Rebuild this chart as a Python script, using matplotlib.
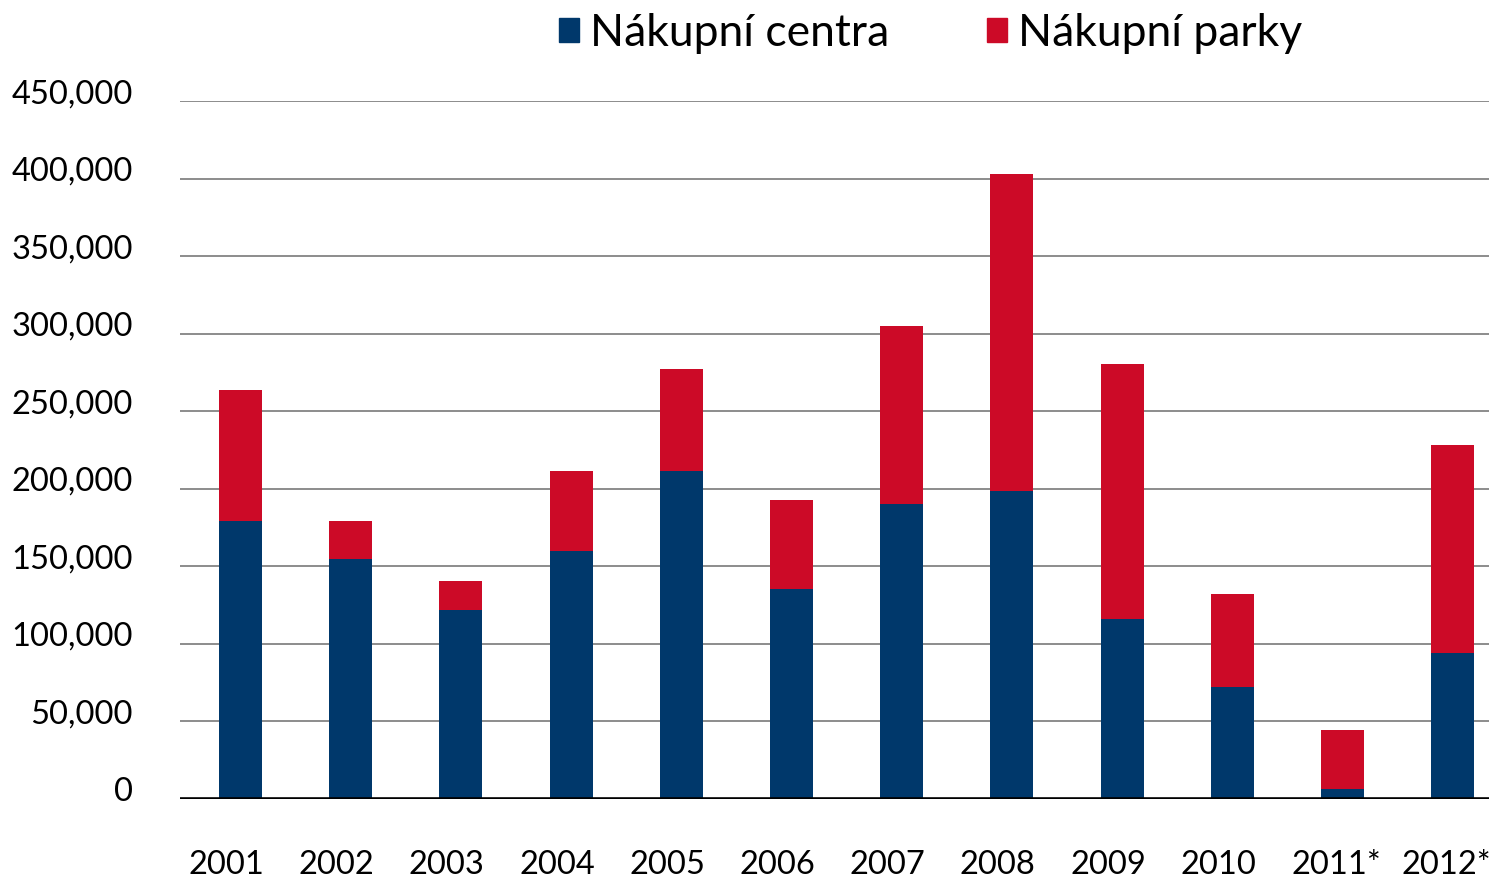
import matplotlib.pyplot as plt
import matplotlib.transforms as mtransforms
from matplotlib.patches import Patch
import numpy as np

plt.rcParams['font.family'] = ['Lato', 'DejaVu Sans']

# data
years = ['2001', '2002', '2003', '2004', '2005', '2006', '2007', '2008',
         '2009', '2010', '2011*', '2012*']
centra = [179000, 155000, 122000, 160000, 211500, 135500, 190000, 198500,
          116000, 72000, 6500, 94000]
parky_total = [263500, 179000, 140500, 211500, 277500, 192800, 305000, 403000,
               280500, 132000, 44500, 228000]
parky = [t - c for t, c in zip(parky_total, centra)]

blue = '#00386B'
red = '#CC0A27'

fig = plt.figure(figsize=(14.89, 8.84), dpi=100)
ax = fig.add_axes([0.1209, 0.0962, 0.8791, 0.7895])

x = np.arange(len(years))
ax.bar(x, centra, width=0.39, color=blue, zorder=2)
ax.bar(x, parky, width=0.39, bottom=centra, color=red, zorder=2)

# axes and grid
ax.set_ylim(0, 450000)
ax.set_xlim(-0.549, 11.33)
ax.set_yticks(np.arange(0, 450001, 50000))
ax.set_yticklabels([f'{v:,}' for v in range(0, 450001, 50000)])
ax.yaxis.grid(True, color='#8c8c8c', linewidth=1.4, zorder=1)
ax.axhline(0, color='black', linewidth=2.6, zorder=3)
for s in ax.spines.values():
    s.set_visible(False)

ax.set_xticks(x)
ax.set_xticklabels(years)
ax.tick_params(axis='both', length=0, labelsize=23.5)
ax.tick_params(axis='y', pad=34)
ax.tick_params(axis='x', pad=37)

# nudge year labels a bit left like in the original
for lab in ax.get_xticklabels():
    dx = -6 if lab.get_text().endswith('*') else -14
    off = mtransforms.ScaledTranslation(dx / 100, 0, fig.dpi_scale_trans)
    lab.set_transform(lab.get_transform() + off)

# value labels sit a little above their gridlines
for lab in ax.get_yticklabels():
    off = mtransforms.ScaledTranslation(0, 10 / 100, fig.dpi_scale_trans)
    lab.set_transform(lab.get_transform() + off)

# legend on top
handles = [Patch(color=blue, label='Nákupní centra'),
           Patch(color=red, label='Nákupní parky')]
fig.legend(handles=handles, loc='center', bbox_to_anchor=(0.625, 0.962),
           ncol=2, frameon=False, fontsize=32, handlelength=0.45,
           handleheight=0.45, handletextpad=0.25, columnspacing=2.2)

fig.savefig('out.png', dpi=100)
